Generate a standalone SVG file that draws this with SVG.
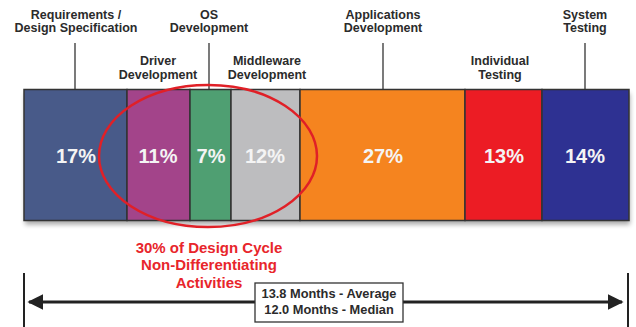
<svg xmlns="http://www.w3.org/2000/svg" width="636" height="327" viewBox="0 0 636 327">
<defs>
<style>
.lbl{font-family:"Liberation Sans",Arial,sans-serif;font-weight:bold;font-size:12.5px;fill:#2b2b2b;text-anchor:middle}
.pct{font-family:"Liberation Sans",Arial,sans-serif;font-weight:bold;font-size:20px;fill:#f4f4f4;text-anchor:middle}
.red{font-family:"Liberation Sans",Arial,sans-serif;font-weight:bold;font-size:15px;fill:#e8252b;text-anchor:middle}
.box{font-family:"Liberation Sans",Arial,sans-serif;font-weight:bold;font-size:12.8px;fill:#2b2b2b;text-anchor:middle}
.seg{stroke:#333;stroke-width:1.5}
.lead{stroke:#333;stroke-width:1.3;fill:none}
</style>
<filter id="sh" x="-5%" y="-5%" width="110%" height="120%">
<feGaussianBlur in="SourceAlpha" stdDeviation="2.5"/>
<feOffset dx="1" dy="4"/>
<feComponentTransfer><feFuncA type="linear" slope="0.35"/></feComponentTransfer>
<feMerge><feMergeNode/><feMergeNode in="SourceGraphic"/></feMerge>
</filter>
<marker id="ah" viewBox="0 0 10 10" refX="9" refY="5" markerWidth="16" markerHeight="16" markerUnits="userSpaceOnUse" orient="auto-start-reverse">
<path d="M0,0 L10,5 L0,10 Z" fill="#222"/>
</marker>
</defs>
<rect width="636" height="327" fill="#fff"/>

<g id="bar" filter="url(#sh)">
<rect x="24" y="89.5" width="605" height="131" fill="#333"/>
</g>
<g id="seg-req"><rect class="seg" x="24" y="89.5" width="103" height="131" fill="#485a89"/><text class="pct" x="76" y="163">17%</text></g>
<g id="seg-driver"><rect class="seg" x="127" y="89.5" width="63" height="131" fill="#a3448a"/><text class="pct" x="158" y="163">11%</text></g>
<g id="seg-os"><rect class="seg" x="190" y="89.5" width="41" height="131" fill="#4f9f72"/><text class="pct" x="211" y="163">7%</text></g>
<g id="seg-mid"><rect class="seg" x="231" y="89.5" width="69" height="131" fill="#bdbdbf"/><text class="pct" x="265" y="163">12%</text></g>
<g id="seg-app"><rect class="seg" x="300" y="89.5" width="165" height="131" fill="#f5841f"/><text class="pct" x="383" y="163">27%</text></g>
<g id="seg-ind"><rect class="seg" x="465" y="89.5" width="77" height="131" fill="#ec1c24"/><text class="pct" x="504" y="163">13%</text></g>
<g id="seg-sys"><rect class="seg" x="542" y="89.5" width="87" height="131" fill="#2e3192"/><text class="pct" x="585" y="163">14%</text></g>

<g id="connectors">
<line class="lead" x1="75" y1="43" x2="75" y2="89.5"/>
<line class="lead" x1="209" y1="43" x2="209" y2="89.5"/>
<line class="lead" x1="383" y1="43" x2="383" y2="89.5"/>
<line class="lead" x1="585" y1="43" x2="585" y2="89.5"/>
<line x1="24" y1="273" x2="24" y2="327" stroke="#222" stroke-width="2"/>
<line x1="628" y1="273" x2="628" y2="327" stroke="#222" stroke-width="2"/>
<line x1="29" y1="302" x2="622" y2="302" stroke="#222" stroke-width="3" marker-start="url(#ah)" marker-end="url(#ah)"/>
</g>

<g id="ellipse"><ellipse cx="208" cy="156" rx="109" ry="71" fill="none" stroke="#e02027" stroke-width="2.5"/></g>

<g id="label-req"><text class="lbl" x="76" y="19">Requirements /</text><text class="lbl" x="76" y="32">Design Specification</text></g>
<g id="label-os"><text class="lbl" x="209" y="19">OS</text><text class="lbl" x="209" y="32">Development</text></g>
<g id="label-driver"><text class="lbl" x="158" y="65">Driver</text><text class="lbl" x="158" y="79">Development</text></g>
<g id="label-mid"><text class="lbl" x="267" y="65">Middleware</text><text class="lbl" x="267" y="79">Development</text></g>
<g id="label-app"><text class="lbl" x="383" y="19">Applications</text><text class="lbl" x="383" y="32">Development</text></g>
<g id="label-ind"><text class="lbl" x="500" y="65">Individual</text><text class="lbl" x="500" y="79">Testing</text></g>
<g id="label-sys"><text class="lbl" x="585" y="19">System</text><text class="lbl" x="585" y="32">Testing</text></g>

<g id="note"><text class="red" x="209" y="253">30% of Design Cycle</text><text class="red" x="209" y="270">Non-Differentiating</text><text class="red" x="209" y="288">Activities</text></g>

<g id="duration"><rect x="255" y="283" width="148" height="39" fill="#fff" stroke="#333" stroke-width="1.3"/>
<text class="box" x="329" y="298">13.8 Months - Average</text><text class="box" x="329" y="314">12.0 Months - Median</text></g>
</svg>
